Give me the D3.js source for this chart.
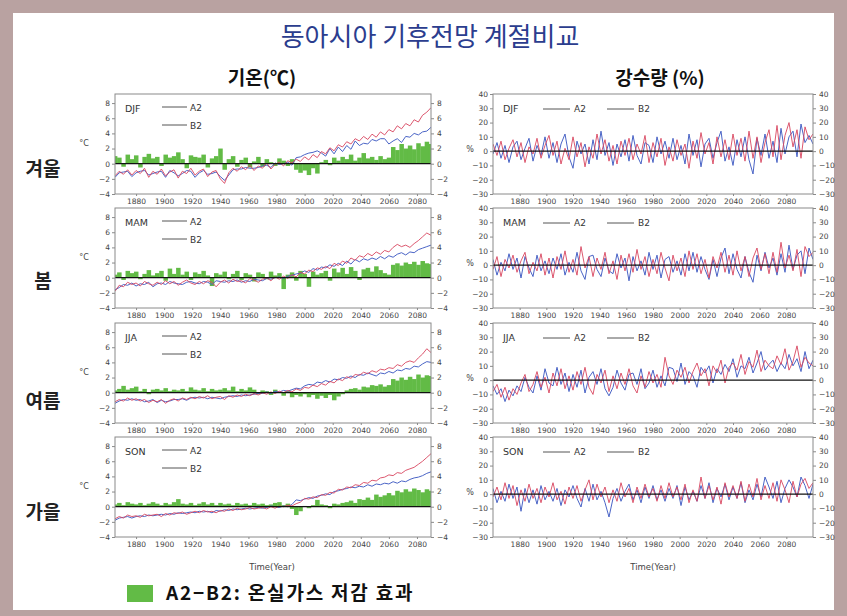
<!DOCTYPE html>
<html>
<head>
<meta charset="utf-8">
<script src="https://cdn.jsdelivr.net/npm/d3@7"></script>
<style>
  body { margin: 0; background: #fff; }
  svg text { font-family: "DejaVu Sans", Arial, sans-serif; }
  .kr { font-family: "Noto Sans CJK KR", sans-serif !important; }
</style>
</head>
<body>
<svg id="chart" width="847" height="616"></svg>
<script>
// ---- data (3-year steps) ----
const seasons = ['DJF', 'MAM', 'JJA', 'SON'];
const seasonNames = ['겨울', '봄', '여름', '가을'];
const yearTicks = [1880, 1900, 1920, 1940, 1960, 1980, 2000, 2020, 2040, 2060, 2080];
const tempTicks = [-4, -2, 0, 2, 4, 6, 8];
const precipTicks = [-30, -20, -10, 0, 10, 20, 30, 40];
const tempStart = 1865;   // temperature series: 1865..2090
const precipStart = 1860; // precipitation series: 1860..2100
const yearStep = 3;

// temperature anomaly (°C)
const djfTempA2 = [-1.6,-1.0,-1.4,-0.8,-1.5, -0.9,-1.3,-0.6,-1.8,-1.0, -1.4,-0.7,-1.6,-1.1,-0.8, -1.9,-1.0,-1.3,-0.6,-1.5,
  -1.0,-0.7,-1.7,-1.1,-0.9, -2.0,-2.6,-1.2,-0.6,-1.0, -0.4,-0.8,-0.2,-0.9,-0.3, -0.6,0.1,-0.7,-0.1,0.2,
  -0.3,0.4,0.1,0.6,0.3, 0.9,0.5,1.2,0.8,1.6, 1.3,2.1,1.7,2.5,2.2, 2.9,2.6,3.3,3.0,3.6,
  3.2,3.9,3.5,4.2,3.8, 4.5,4.2,5.0,4.6,5.3, 5.0,5.8,5.5,6.4,6.8, 7.4];
const djfTempB2 = [-1.8,-1.2,-1.1,-1.0,-1.7, -1.2,-1.0,-0.9,-1.5,-1.3, -1.1,-1.0,-1.8,-0.9,-1.2, -1.6,-1.3,-0.9,-1.0,-1.8,
  -1.2,-0.9,-1.4,-1.3,-1.1, -1.7,-2.2,-1.5,-0.8,-0.7, -0.7,-0.5,-0.6,-0.6,-0.5, -0.3,-0.2,-0.5,0.1,-0.1,
  0.0,0.2,-0.2,0.8,0.9, 1.2,1.4,1.5,1.7,1.4, 1.0,2.0,1.3,2.2,1.6, 2.4,1.9,3.0,2.4,2.7,
  2.6,3.2,3.0,3.3,3.3, 2.6,3.0,3.3,2.8,3.6, 3.5,4.0,3.8,4.2,4.3, 4.8];
const djfTempDiff = [1.0,0.8,-0.4,1.2,0.6, 1.1,-0.5,0.9,1.3,0.7, 0.9,-0.3,1.2,0.8,1.0, 1.5,0.6,-0.6,1.1,0.9,
  0.8,1.2,-0.5,0.7,1.0, 2.0,-0.8,0.6,1.0,-0.4, 0.5,0.8,-0.5,0.3,0.9, -0.4,0.6,0.2,-0.3,0.7,
  0.4,-0.3,0.6,-0.8,-1.2, -0.9,-1.5,-0.6,-1.3,0.2, 0.5,-0.2,0.8,0.4,0.9, 0.6,1.2,0.4,0.8,1.4,
  0.7,0.9,0.5,1.0,0.6, 0.8,2.2,1.8,2.6,2.0, 2.4,1.9,2.7,2.3,2.9, 2.6];

const mamTempA2 = [-1.8,-1.0,-1.2,-0.6,-0.9, -0.7,-1.1,-0.5,-0.8,-1.0, -0.6,-0.9,-0.4,-0.8,-0.5, -1.0,-0.6,-0.3,-0.7,-0.9,
  -0.5,-0.8,-0.4,-0.6,-1.2, -0.6,-0.3,-0.7,-0.2,-0.5, -0.4,-0.7,-0.1,-0.3,-0.6, -0.2,0.0,-0.4,0.1,-0.2,
  0.2,-0.1,0.4,0.1,0.7, 0.5,1.0,0.8,1.3,1.1, 1.5,1.2,1.9,1.6,2.2, 1.9,2.6,2.3,2.9,2.7,
  3.2,2.9,3.4,3.1,3.6, 3.4,4.0,4.4,4.1,4.3, 4.0,4.5,4.9,5.4,5.9, 5.6];
const mamTempB2 = [-1.6,-1.3,-0.9,-1.0,-0.7, -1.1,-0.8,-0.9,-0.6,-1.2, -0.8,-0.7,-0.9,-0.5,-0.7, -0.8,-0.9,-0.6,-0.5,-0.7,
  -0.8,-0.5,-0.6,-0.9,-0.4, -0.5,-0.6,-0.4,-0.5,-0.3, -0.6,-0.4,-0.5,-0.2,-0.3, -0.4,-0.1,-0.2,0.0,0.1,
  -0.1,0.2,0.3,0.5,0.6, 0.9,0.7,1.2,1.0,1.4, 1.3,1.7,1.5,1.9,1.6, 2.2,1.8,2.4,2.1,2.5,
  2.3,2.6,2.4,2.8,2.5, 2.9,2.7,3.1,3.3,3.0, 3.4,3.3,3.7,3.9,4.1, 4.3];
const mamTempDiff = [0.4,0.7,-0.3,0.9,0.6, 0.8,-0.2,0.5,1.0,0.3, 0.6,0.9,-0.4,1.2,0.5, 1.3,0.4,0.8,-0.3,0.7,
  0.5,0.9,0.3,-1.1,0.6, 0.4,0.8,-0.2,0.5,0.9, -0.3,0.6,0.4,-0.5,0.7, 0.5,-0.2,0.8,0.3,0.6,
  -1.5,0.4,0.7,-0.4,0.9, 0.5,-1.2,0.8,0.4,0.6, 0.9,-0.4,1.2,0.7,1.3, 0.5,1.4,0.9,-0.3,1.1,
  1.3,0.8,1.5,1.0,0.6, 0.4,1.7,1.9,1.6,2.0, 1.8,2.1,1.7,2.2,1.9, 1.8];

const jjaTempA2 = [-1.2,-0.9,-1.1,-0.7,-1.0, -0.8,-1.1,-0.9,-1.3,-1.0, -1.2,-0.9,-1.4,-1.0,-0.8, -1.1,-0.7,-0.9,-0.6,-0.8,
  -0.5,-0.7,-0.4,-0.8,-0.6, -0.5,-0.9,-0.4,-0.6,-0.3, -0.5,-0.2,-0.4,-0.1,-0.3, 0.0,-0.2,0.1,-0.1,0.2,
  0.0,0.3,0.1,0.5,0.3, 0.7,0.6,1.0,0.8,1.2, 1.0,1.5,1.3,1.8,1.6, 2.1,1.9,2.4,2.3,2.7,
  2.5,2.9,2.7,3.1,3.0, 3.3,3.2,3.7,3.5,4.0, 4.2,4.0,4.6,5.1,5.8, 5.3];
const jjaTempB2 = [-1.4,-1.1,-0.9,-1.0,-0.8, -1.0,-0.9,-1.2,-1.1,-0.9, -1.3,-1.0,-1.2,-1.1,-0.9, -0.9,-0.8,-1.0,-0.7,-0.6,
  -0.7,-0.6,-0.8,-0.6,-0.7, -0.8,-0.6,-0.5,-0.4,-0.5, -0.3,-0.4,-0.3,-0.2,-0.1, -0.1,0.1,-0.1,0.2,0.1,
  0.3,0.2,0.4,0.6,0.5, 0.9,1.1,1.0,1.4,1.3, 1.6,1.4,1.8,1.7,2.0, 1.9,2.2,2.0,2.4,2.3,
  2.6,2.4,2.2,2.6,2.5, 2.8,2.6,3.0,2.9,3.2, 3.1,3.5,3.4,3.8,4.1, 4.0];
const jjaTempDiff = [0.3,0.5,0.9,0.4,0.6, 0.8,0.2,0.5,-0.2,0.4, 0.5,0.3,0.6,0.2,0.4, 0.3,0.5,0.2,0.7,0.4,
  0.3,0.6,0.2,0.5,0.3, 0.4,0.6,0.3,0.8,0.2, 0.5,0.3,0.7,0.4,-0.2, 0.3,0.2,-0.3,0.4,0.1,
  -0.4,0.2,-0.6,-0.3,-0.5, -0.2,-0.6,-0.3,-0.8,-0.4, -0.7,-0.3,-1.0,-0.5,-0.2, 0.3,0.5,0.6,0.4,0.8,
  0.7,1.0,0.9,1.1,0.8, 1.0,1.8,1.6,2.0,1.7, 2.1,1.8,2.4,2.0,2.3, 2.2];

const sonTempA2 = [-1.6,-1.3,-1.5,-1.1,-1.3, -1.2,-1.4,-1.0,-1.2,-1.1, -1.0,-1.3,-0.9,-1.1,-0.8, -0.9,-0.7,-1.0,-0.8,-0.6,
  -0.8,-0.5,-0.7,-0.6,-0.8, -0.5,-0.6,-0.3,-0.5,-0.2, -0.4,-0.3,-0.1,-0.3,-0.2, -0.1,-0.3,0.0,-0.2,0.1,
  0.0,0.2,0.1,0.4,0.6, 1.1,1.0,1.3,1.2,1.6, 1.5,1.9,1.8,2.3,2.2, 2.6,2.5,2.9,2.8,3.2,
  3.1,3.5,3.4,3.8,3.9, 4.2,4.1,4.5,4.4,4.8, 5.0,5.2,5.6,6.0,6.5, 7.0];
const sonTempB2 = [-1.8,-1.5,-1.4,-1.3,-1.5, -1.3,-1.2,-1.3,-1.1,-1.2, -1.1,-1.0,-1.1,-0.9,-1.0, -0.8,-0.9,-0.8,-0.7,-0.8,
  -0.6,-0.7,-0.6,-0.8,-0.5, -0.6,-0.4,-0.5,-0.3,-0.4, -0.3,-0.2,-0.3,-0.2,-0.1, -0.2,-0.1,0.1,0.0,-0.1,
  0.1,0.0,0.3,0.9,0.8, 1.0,1.2,1.1,1.4,1.5, 1.7,1.6,2.0,2.1,2.3, 2.4,2.6,2.5,2.7,2.6,
  2.9,2.7,3.0,2.9,3.1, 3.0,3.3,3.1,3.4,3.3, 3.6,3.8,3.9,4.1,4.4, 4.6];
const sonTempDiff = [0.3,0.5,0.2,0.6,0.4, 0.3,0.5,0.2,0.4,0.6, 0.4,0.2,0.5,0.3,0.6, 1.0,0.4,0.3,0.5,0.2,
  0.4,0.6,0.3,0.5,0.2, 0.5,0.3,0.4,0.2,0.5, 0.3,0.4,0.2,0.5,0.3, 0.4,0.2,0.3,0.5,0.6,
  0.2,0.4,-0.3,-1.1,-0.6, 0.1,-0.2,0.2,0.9,0.3, 0.2,-0.2,0.4,0.3,0.5, 0.6,0.8,0.5,1.0,0.9,
  1.2,0.9,1.6,1.3,1.5, 1.8,1.5,2.1,1.9,2.3, 2.0,2.4,2.2,1.9,2.3, 2.1];

// precipitation change (%)
const djfPrecA2 = [5,-3,7,-6,2, 8,-4,6,-8,3, -2,9,-5,4,11, -3,7,-9,2,-6, 10,-4,6,-11,3, -5,12,-2,8,-7,
  4,-9,7,-3,9, -6,5,-2,11,-8, 6,-4,9,-10,3, -7,8,-3,5,-12, 7,-5,13,-2,6, -9,10,-4,8,-6,
  12,-3,9,-7,14, -5,10,-8,6,15, -4,18,-6,11,20, 3,15,-5,17,8, 12];
const djfPrecB2 = [-2,6,-5,4,-8, 3,7,-6,2,9, -7,4,-3,10,-5, 6,-8,5,12,-4, -12,7,-2,5,-9, 8,-6,14,-3,6,
  -10,5,-4,8,-7, 11,-3,-9,6,4, -8,10,-2,7,-5, 9,-6,4,-9,12, -3,8,-11,5,9, -5,6,14,-7,3,
  -10,8,-4,10,-6, -16,9,-3,12,-5, 7,-8,16,-2,10, 14,-4,19,6,11, 5];
const mamPrecA2 = [-3,6,-8,4,-2, 7,-5,3,9,-6, 2,-4,8,-7,5, -9,6,-3,10,-5, 4,-7,13,-2,6, -8,5,-3,9,-6,
  3,-10,7,-4,8, -5,11,-3,6,-8, 4,-6,9,-2,-11, 7,-4,5,-8,10, -3,8,-6,4,-9, 6,-2,9,-5,7,
  -7,10,-4,6,-8, 5,12,-3,8,-6, 9,-5,16,-2,7, -4,11,-8,13,6, 9];
const mamPrecB2 = [4,-7,2,-4,8, -3,5,-9,6,-2, -8,7,-4,3,-6, 5,-3,8,-7,2, -5,9,-4,-10,6, 7,-3,-8,5,-4,
  -6,8,-2,5,-11, 6,-4,3,-7,9, -3,7,-9,4,6, -5,3,-7,8,-4, 9,-5,6,-3,-10, 4,-8,5,12,-6,
  8,-3,-9,6,-5, -12,7,-4,9,-2, 5,-7,8,-5,14, -3,7,10,-6,12, 4];
const jjaPrecA2 = [-8,-3,-12,-5,-14, -6,-10,-2,4,-8, -3,6,-5,2,-9, 5,-4,8,-6,3, -7,6,-3,9,-5, -10,4,-2,7,-8,
  3,-6,5,-3,8, -4,-9,3,-5,6, -2,4,-5,16,3, -3,7,2,9,-2, 6,12,3,8,-4, 10,5,14,-2,9,
  12,7,18,4,13, 9,21,6,14,10, 8,17,11,22,7, 13,24,9,16,12, 10];
const jjaPrecB2 = [-4,-10,-6,-15,-7, -11,-4,-8,2,-5, -9,3,-7,8,-2, -4,9,-3,5,-8, 4,-5,7,-9,2, 6,-3,8,-6,-11,
  -5,7,-2,-7,4, 5,-3,8,-6,-2, 7,-5,3,-4,9, 8,-1,12,-3,6, 3,-5,9,5,10, -2,8,4,11,6,
  15,2,10,8,16, 5,12,20,7,11, 14,6,12,8,18, 10,15,6,20,8, 14];
const sonPrecA2 = [-2,5,-4,8,-3, 6,-8,3,-5,7, -3,4,-6,5,-2, 8,-4,2,-7,5, -3,6,-5,3,10, -4,7,-2,5,-6,
  3,-5,8,-2,4, -6,5,-3,7,-2, 4,-5,6,-3,8, -2,5,-4,7,-6, 3,-5,12,-3,6, -4,5,-7,8,-2,
  6,-3,9,-5,7, -2,11,-4,6,-3, 8,-5,10,3,-6, 9,-2,7,11,4, 8];
const sonPrecB2 = [4,-6,2,-5,7, -3,5,-12,4,-6, 3,-7,6,-4,2, -5,4,-8,3,-2, 6,-3,-9,4,-5, 7,-4,2,-6,-16,
  -3,4,-5,2,7, -4,3,-6,5,-3, 6,-4,3,-5,4, -3,6,-8,5,-4, 2,-5,6,-3,8, -6,4,-2,7,-4,
  5,-3,8,-6,3, -4,7,-2,12,5, -3,9,-6,4,10, 5,-2,12,6,-3, 7];

const tempSets = [
  {a2: djfTempA2, b2: djfTempB2, diff: djfTempDiff},
  {a2: mamTempA2, b2: mamTempB2, diff: mamTempDiff},
  {a2: jjaTempA2, b2: jjaTempB2, diff: jjaTempDiff},
  {a2: sonTempA2, b2: sonTempB2, diff: sonTempDiff}
];
const precSets = [
  {a2: djfPrecA2, b2: djfPrecB2},
  {a2: mamPrecA2, b2: mamPrecB2},
  {a2: jjaPrecA2, b2: jjaPrecB2},
  {a2: sonPrecA2, b2: sonPrecB2}
];

// ---- layout ----
const W = 847, H = 616;
const panelTops = [94, 208, 323, 437];
const panelH = 100;
const colA2 = '#d8465f', colB2 = '#4a64c6', colDiff = '#62bb46';
const axisGrey = '#8a8a8a', textGrey = '#444';

const svg = d3.select('#chart');

// rosy frame
svg.append('rect').attr('width', W).attr('height', H).attr('fill', '#b9a2a1');
svg.append('rect').attr('x', 13).attr('y', 13).attr('width', W - 26).attr('height', H - 19).attr('fill', '#fff');

// titles
svg.append('text').attr('class', 'kr')
  .attr('x', 430).attr('y', 46).attr('text-anchor', 'middle')
  .attr('font-size', 26).attr('fill', '#2b3d8e')
  .text('동아시아 기후전망 계절비교');
svg.append('text').attr('class', 'kr')
  .attr('x', 262).attr('y', 85).attr('text-anchor', 'middle')
  .attr('font-size', 19).attr('font-weight', 'bold').attr('fill', '#111')
  .text('기온(℃)');
svg.append('text').attr('class', 'kr')
  .attr('x', 660).attr('y', 85).attr('text-anchor', 'middle')
  .attr('font-size', 19).attr('font-weight', 'bold').attr('fill', '#111')
  .text('강수량 (%)');

const tempX = d3.scaleLinear().domain([1865, 2090]).range([115, 431]);
const precX = d3.scaleLinear().domain([1860, 2100]).range([493, 813]);

const styleAxis = g => {
  g.select('.domain').remove();
  g.selectAll('.tick line').attr('stroke', axisGrey);
  g.selectAll('.tick text').attr('fill', textGrey).attr('font-size', 7.5);
};

const drawPanel = (opts) => {
  const {x, y, T, season, a2, b2, diff, start, ticks, unit, unitX, legendInline} = opts;
  const [x0, x1] = x.range();
  const g = svg.append('g');
  const clipId = 'clip-' + Math.round(x0) + '-' + T;
  g.append('clipPath').attr('id', clipId)
    .append('rect').attr('x', x0).attr('y', T).attr('width', x1 - x0).attr('height', panelH);

  const plot = g.append('g').attr('clip-path', `url(#${clipId})`);
  const yearOf = i => start + i * yearStep;

  if (diff) {
    const bw = x(start + yearStep) - x(start);
    plot.selectAll('rect.diff').data(diff).join('rect')
      .attr('class', 'diff')
      .attr('x', (d, i) => x(yearOf(i)) - bw / 2)
      .attr('width', bw + 0.3)
      .attr('y', d => Math.min(y(d), y(0)))
      .attr('height', d => Math.abs(y(d) - y(0)))
      .attr('fill', colDiff);
  }

  const line = d3.line().x((d, i) => x(yearOf(i))).y(d => y(d));
  plot.append('path').datum(b2).attr('d', line)
    .attr('fill', 'none').attr('stroke', colB2).attr('stroke-width', 1);
  plot.append('path').datum(a2).attr('d', line)
    .attr('fill', 'none').attr('stroke', colA2).attr('stroke-width', 1).attr('stroke-opacity', 0.9);

  // zero line
  g.append('line').attr('x1', x0).attr('x2', x1).attr('y1', y(0)).attr('y2', y(0))
    .attr('stroke', '#111').attr('stroke-width', 1.2);

  // frame
  g.append('rect').attr('x', x0).attr('y', T).attr('width', x1 - x0).attr('height', panelH)
    .attr('fill', 'none').attr('stroke', axisGrey).attr('stroke-width', 1);

  // axes
  g.append('g').attr('transform', `translate(${x0},0)`)
    .call(d3.axisLeft(y).tickValues(ticks).tickSize(3).tickPadding(2)).call(styleAxis);
  g.append('g').attr('transform', `translate(${x1},0)`)
    .call(d3.axisRight(y).tickValues(ticks).tickSize(3).tickPadding(3)).call(styleAxis);
  g.append('g').attr('transform', `translate(0,${T + panelH})`)
    .call(d3.axisBottom(x).tickValues(yearTicks).tickFormat(d3.format('d')).tickSize(2).tickPadding(3))
    .call(styleAxis);

  // unit label
  g.append('text').attr('x', unitX).attr('y', T + (unit === '%' ? 58 : 52))
    .attr('text-anchor', 'middle').attr('font-size', 8).attr('fill', textGrey).text(unit);

  // in-panel legend
  g.append('text').attr('x', x0 + 10).attr('y', T + 18).attr('font-size', 9.5).attr('fill', '#333').text(season);
  if (legendInline) {
    [['A2', 50], ['B2', 114]].forEach(([lbl, dx]) => {
      g.append('line').attr('x1', x0 + dx).attr('x2', x0 + dx + 27).attr('y1', T + 15).attr('y2', T + 15)
        .attr('stroke', '#555').attr('stroke-width', 1);
      g.append('text').attr('x', x0 + dx + 31).attr('y', T + 18).attr('font-size', 9).attr('fill', '#333').text(lbl);
    });
  } else {
    [['A2', 13], ['B2', 31]].forEach(([lbl, dy]) => {
      g.append('line').attr('x1', x0 + 47).attr('x2', x0 + 72).attr('y1', T + dy).attr('y2', T + dy)
        .attr('stroke', '#555').attr('stroke-width', 1);
      g.append('text').attr('x', x0 + 75).attr('y', T + dy + 3.5).attr('font-size', 9).attr('fill', '#333').text(lbl);
    });
  }
};

seasons.forEach((season, i) => {
  const T = panelTops[i];
  drawPanel({
    x: tempX, y: d3.scaleLinear().domain([-4, 9.2]).range([T + panelH, T]),
    T, season, ...tempSets[i], start: tempStart, ticks: tempTicks,
    unit: '°C', unitX: 84, legendInline: false
  });
  drawPanel({
    x: precX, y: d3.scaleLinear().domain([-30, 40]).range([T + panelH, T]),
    T, season, ...precSets[i], diff: null, start: precipStart, ticks: precipTicks,
    unit: '%', unitX: 470, legendInline: true
  });
  svg.append('text').attr('class', 'kr')
    .attr('x', 43).attr('y', [176, 288, 408, 519][i]).attr('text-anchor', 'middle')
    .attr('font-size', 19).attr('font-weight', 'bold').attr('fill', '#222')
    .text(seasonNames[i]);
});

// x axis titles
[272, 653].forEach(cx => {
  svg.append('text').attr('x', cx).attr('y', 570).attr('text-anchor', 'middle')
    .attr('font-size', 8.5).attr('fill', textGrey).text('Time(Year)');
});

// bottom legend
svg.append('rect').attr('x', 127).attr('y', 585).attr('width', 26).attr('height', 17).attr('fill', colDiff);
svg.append('text').attr('class', 'kr')
  .attr('x', 166).attr('y', 600).attr('font-size', 19).attr('letter-spacing', 1.8)
  .attr('font-weight', 'bold').attr('fill', '#111')
  .text('A2−B2: 온실가스 저감 효과');
</script>
</body>
</html>
